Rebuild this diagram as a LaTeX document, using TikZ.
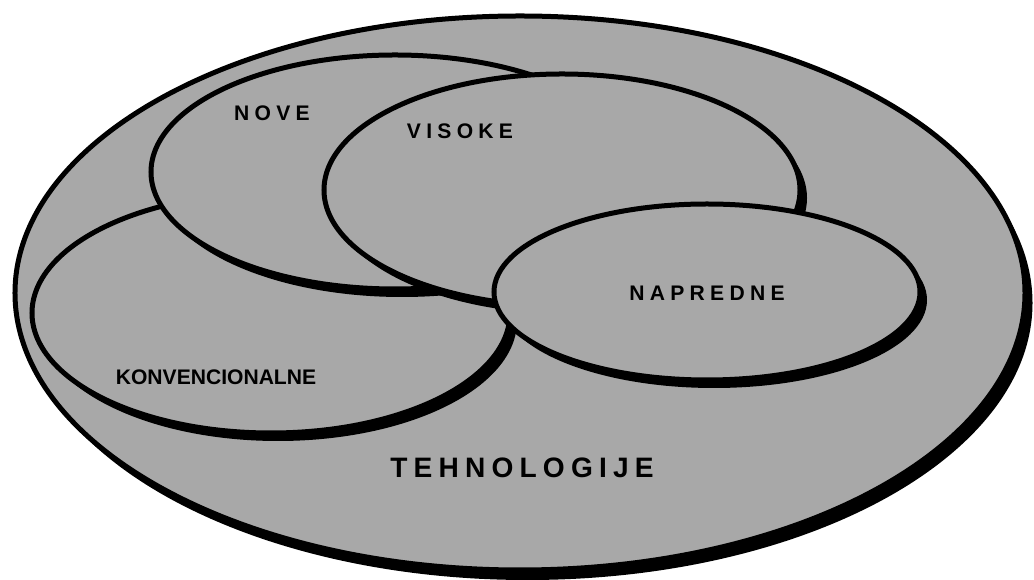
\documentclass[tikz,border=0pt]{standalone}
\usepackage{fontspec}
\setmainfont{Liberation Sans}
\newfontfamily\spacedfont{Liberation Sans}[LetterSpace=25]
\newfontfamily\widefont{Liberation Sans}[LetterSpace=22]
\usetikzlibrary{shapes.geometric, shadows}
\definecolor{ScreenGray}{HTML}{A8A8A8}

\begin{document}
\begin{tikzpicture}[x=0.2mm, y=-0.2mm,
    setbox/.style={ellipse, draw=black, line width=1mm, fill=ScreenGray, inner sep=0pt, outer sep=0pt, drop shadow={shadow xshift=1.5mm, shadow yshift=-2mm, fill=black, opacity=1}},
    blob/.style={ellipse, draw=black, line width=1mm, fill=ScreenGray, inner sep=0pt, outer sep=0pt, drop shadow={shadow xshift=1.4mm, shadow yshift=-1.6mm, fill=black, opacity=1}},
    tag/.style={font=\spacedfont\bfseries\fontsize{12}{14}\selectfont, text=black, inner sep=0pt}
  ]
  \useasboundingbox (0,0) rectangle (1034,580);

  % outer set
  \node[setbox, minimum width=202mm, minimum height=110.8mm] (tech) at (520,293) {};

  % inner sets, back to front
  \node[blob, minimum width=95.6mm, minimum height=48mm] (konv) at (271,313) {};
  \node[blob, minimum width=97.6mm, minimum height=46.8mm] (nove) at (395,172) {};
  \node[blob, minimum width=95.2mm, minimum height=46.4mm] (visoke) at (562,190) {};
  \node[blob, minimum width=85.2mm, minimum height=35.2mm] (napredne) at (707,292) {};

  % labels
  \node[tag] (noveLbl) at (272,113) {NOVE};
  \node[tag] (visokeLbl) at (460,131) {VISOKE};
  \node[tag] (napredneLbl) at (707,293) {NAPREDNE};
  \node[tag, font=\bfseries\fontsize{12}{14}\selectfont] (konvLbl) at (216,377) {KONVENCIONALNE};
  \node[tag, font=\widefont\bfseries\fontsize{16}{18}\selectfont] (techLbl) at (522,468) {TEHNOLOGIJE};
\end{tikzpicture}
\end{document}
